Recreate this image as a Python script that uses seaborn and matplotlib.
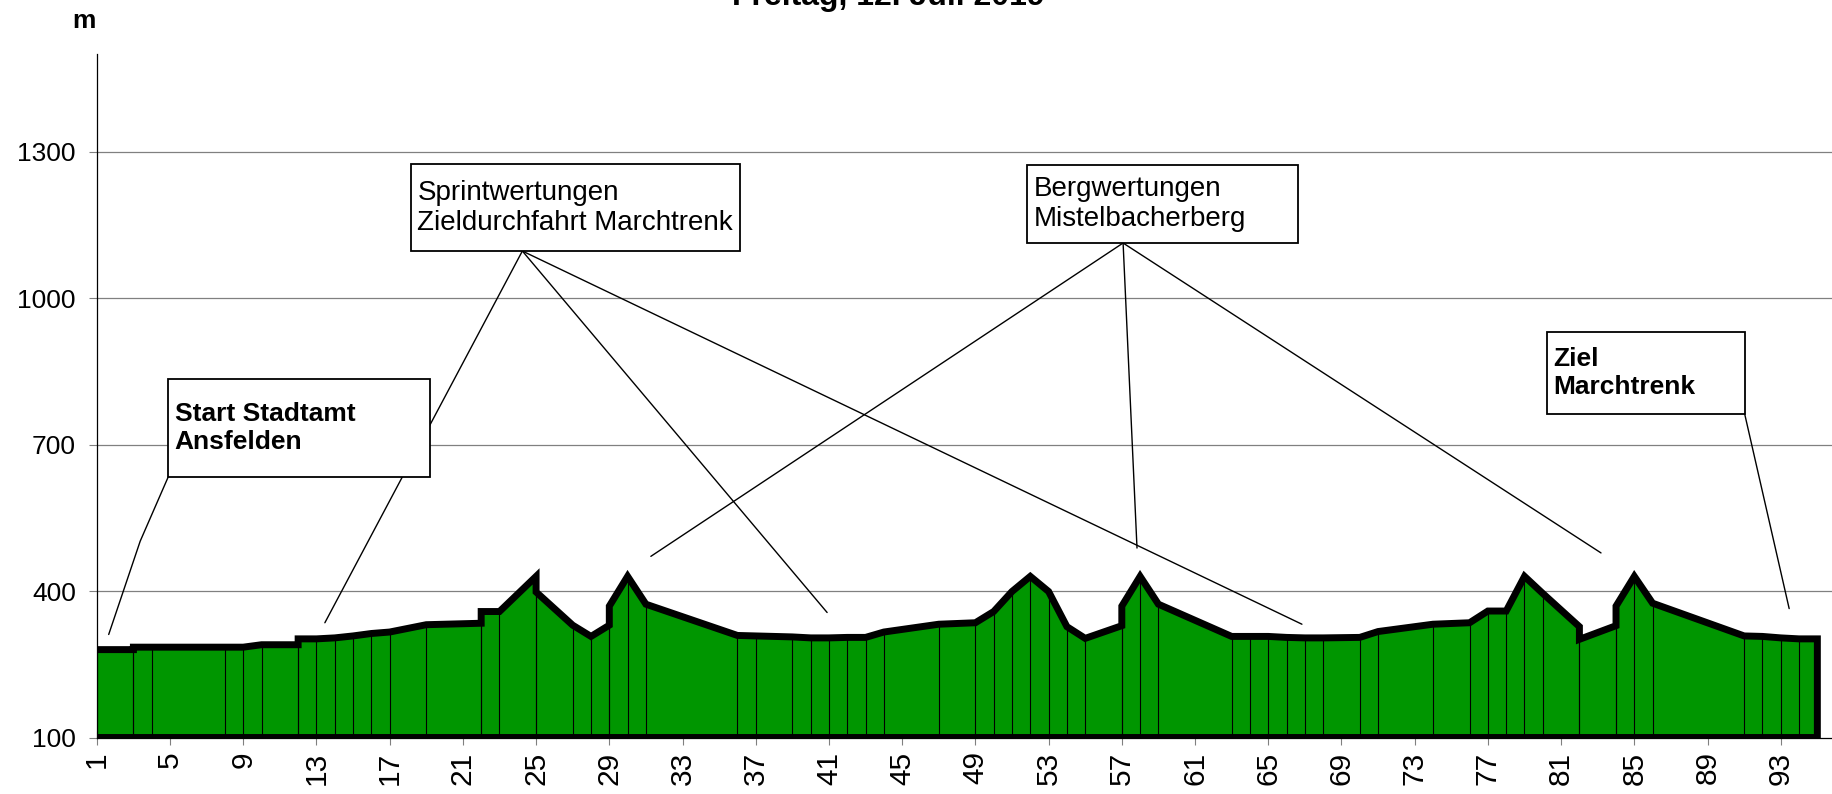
import numpy as np
import pandas as pd
import matplotlib
matplotlib.use("Agg")
import matplotlib.pyplot as plt
import seaborn as sns
from matplotlib.patches import Rectangle

# ==========================
# Data: elevation profile (km -> m), steps use the same km twice
# ==========================
km = [1, 3, 3, 4, 8, 9, 10, 12, 12, 13, 14, 15, 16, 17, 19, 22, 22, 23, 25, 25,
      27, 28, 29, 29, 30, 31, 36, 37, 39, 40, 41, 42, 43, 44, 47, 49, 50, 51, 52,
      53, 54, 55, 57, 57, 58, 59, 63, 64, 65, 66, 67, 68, 70, 71, 74, 76, 77, 78,
      79, 80, 82, 82, 84, 84, 85, 86, 91, 92, 93, 94, 95]
hoehe = [280, 280, 285, 285, 285, 285, 290, 290, 302, 302, 304, 308, 313, 316, 331,
         334, 358, 358, 430, 398, 330, 307, 330, 369, 430, 373, 309, 308, 306, 304,
         304, 305, 305, 316, 332, 335, 358, 399, 430, 399, 327, 303, 329, 369, 430,
         373, 307, 307, 307, 305, 304, 304, 305, 317, 332, 335, 359, 359, 430, 395,
         327, 301, 329, 369, 430, 375, 308, 307, 304, 302, 302]

y_ticks = [100, 400, 700, 1000, 1300]
x_ticks = list(range(1, 94, 4))

title = "Freitag, 12. Juli 2019"

# callouts: text, bold, box (x0, x1, y0, y1) in km / m, leader lines
callouts = [
    ("Start Stadtamt\nAnsfelden", True, (4.9, 19.22, 633.5, 834.2),
     [[(4.9, 633.5), (3.37, 502), (1.65, 311)]]),
    ("Sprintwertungen\nZieldurchfahrt Marchtrenk", False, (18.17, 36.15, 1096.3, 1274.5),
     [[(24.25, 1096.3), (13.46, 335)],
      [(24.25, 1096.3), (40.9, 356)],
      [(24.25, 1096.3), (66.84, 332)]]),
    ("Bergwertungen\nMistelbacherberg", False, (51.83, 66.64, 1112.7, 1272.5),
     [[(57.07, 1112.7), (31.27, 471)],
      [(57.07, 1112.7), (57.83, 488)],
      [(57.07, 1112.7), (83.18, 478)]]),
    ("Ziel\nMarchtrenk", True, (80.24, 91.06, 762.5, 930.5),
     [[(91.03, 762.5), (93.46, 364)]]),
]

df = pd.DataFrame({"km": km, "hoehe": hoehe})

# ==========================
# Plot
# ==========================
sns.set_theme(style="white")
plt.rcParams["font.family"] = ["Liberation Sans", "DejaVu Sans"]
plt.rcParams["text.color"] = "black"
plt.rcParams["xtick.color"] = "black"
plt.rcParams["ytick.color"] = "black"

fig = plt.figure(figsize=(18.32, 7.94), dpi=100)
ax = fig.add_axes([96.8 / 1832, 1 - 737.5 / 794, (1832 - 96.8) / 1832, (737.5 - 53.9) / 794])

ymin = 100
ax.fill_between(df["km"], ymin, df["hoehe"], color="#009600", lw=0, zorder=2)
ax.vlines(df["km"], ymin, df["hoehe"], color="black", lw=0.8, zorder=3)

outline = pd.concat([df, pd.DataFrame({"km": [km[-1], km[0]], "hoehe": [ymin, ymin]})],
                    ignore_index=True)
sns.lineplot(data=outline, x="km", y="hoehe", estimator=None, sort=False,
             color="black", lw=5, ax=ax, zorder=4)
for line in ax.lines:
    line.set_solid_joinstyle("miter")
    line.set_solid_capstyle("butt")

ax.set_xlim(1, 95.8)
ax.set_ylim(100, 1500)
ax.set_yticks(y_ticks)
ax.set_xticks(x_ticks)
ax.set_xticklabels([str(v) for v in x_ticks], rotation=90)
ax.set_xlabel("")
ax.set_ylabel("")

for y in y_ticks[1:]:
    ax.axhline(y, color="#808080", lw=0.9, zorder=1)

ax.tick_params(axis="y", direction="out", length=6, width=0.8, color="#808080",
               labelsize=19, labelcolor="black", pad=9, left=True)
ax.tick_params(axis="x", direction="inout", length=10, width=0.8, color="#808080",
               labelsize=21.5, labelcolor="black", pad=5, bottom=True)

sns.despine(ax=ax, top=True, right=True)
ax.spines["left"].set_color("black")
ax.spines["left"].set_linewidth(0.9)
ax.spines["bottom"].set_color("black")
ax.spines["bottom"].set_linewidth(0.9)
ax.spines["bottom"].set_zorder(5)

# callouts
for text, bold, (x0, x1, y0, y1), lines in callouts:
    for pts in lines:
        xs, ys = zip(*pts)
        ax.plot(xs, ys, color="black", lw=1.0, zorder=6, clip_on=False)
    ax.add_patch(Rectangle((x0, y0), x1 - x0, y1 - y0, facecolor="white",
                           edgecolor="black", lw=1.3, zorder=7))
    ax.text(x0 + 0.35, (y0 + y1) / 2, text, ha="left", va="center",
            fontsize=19 if bold else 20,
            fontweight="bold" if bold else "normal", linespacing=1.2, zorder=8)

fig.text(84 / 1832, 1 - 21 / 794, "m", ha="center", va="center", fontsize=19,
         fontweight="bold")
fig.text(888 / 1832, 1 - 5 / 794, title, ha="center", va="baseline", fontsize=23,
         fontweight="bold")

fig.savefig("out.png", dpi=100)
